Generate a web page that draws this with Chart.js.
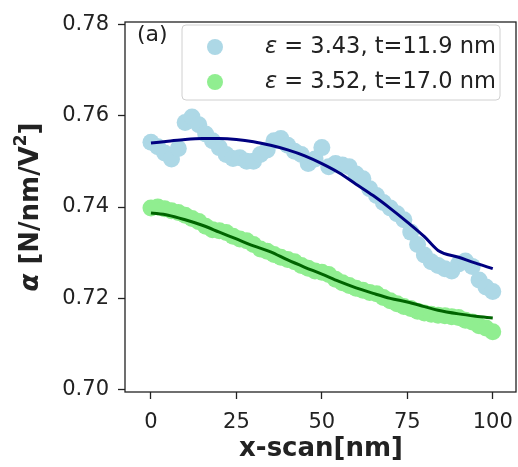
<!DOCTYPE html>
<html>
<head>
<meta charset="utf-8">
<script src="https://cdn.jsdelivr.net/npm/chart.js@4.4.1/dist/chart.umd.min.js"></script>
<style>
  html, body { margin: 0; padding: 0; background: #fff; }
  #wrap { width: 518px; height: 467px; }
</style>
</head>
<body>
<div id="wrap"><canvas id="chart" width="518" height="467"></canvas></div>
<script>
// Valores
const xScan = [0, 2, 4, 6, 8, 10, 12, 14, 16, 18, 20, 22, 24, 26, 28, 30, 32, 34, 36, 38, 40,
  42, 44, 46, 48, 50, 52, 54, 56, 58, 60, 62, 64, 66, 68, 70, 72, 74, 76, 78, 80,
  82, 84, 86, 88, 90, 92, 94, 96, 98, 100];

// amostra ε = 3.43 (pontos azuis)
const alphaA = [0.7542, 0.7532, 0.7518, 0.7505, 0.7528, 0.7585, 0.7597, 0.7580, 0.7560, 0.7545, 0.7530,
  0.7515, 0.7506, 0.7508, 0.7500, 0.7500, 0.7515, 0.7525, 0.7545, 0.7550, 0.7535,
  0.7522, 0.7515, 0.7495, 0.7505, 0.7530, 0.7488, 0.7495, 0.7492, 0.7488, 0.7472,
  0.7462, 0.7440, 0.7425, 0.7410, 0.7398, 0.7385, 0.7372, 0.7345, 0.7318, 0.7295,
  0.7280, 0.7272, 0.7265, 0.7260, 0.7275, 0.7282, 0.7270, 0.7240, 0.7225, 0.7215];

// amostra ε = 3.52 (pontos verdes)
const alphaB = [0.7398, 0.7400, 0.7396, 0.7392, 0.7388, 0.7382, 0.7375, 0.7368, 0.7358, 0.7350, 0.7348,
  0.7344, 0.7336, 0.7330, 0.7326, 0.7318, 0.7308, 0.7303, 0.7296, 0.7290, 0.7285,
  0.7280, 0.7272, 0.7266, 0.7260, 0.7257, 0.7252, 0.7242, 0.7234, 0.7228, 0.7222,
  0.7218, 0.7213, 0.7210, 0.7202, 0.7195, 0.7188, 0.7182, 0.7178, 0.7172, 0.7168,
  0.7165, 0.7163, 0.7162, 0.7160, 0.7158, 0.7152, 0.7148, 0.7140, 0.7135, 0.7127];

// curvas de ajuste
const xFit = [0, 5, 10, 15, 20, 25, 30, 35, 40, 45, 50, 55, 60, 65, 70, 75, 80, 84, 90, 95, 100];
const fitA = [0.7540, 0.7544, 0.7548, 0.7550, 0.7550, 0.7548, 0.7543, 0.7535, 0.7525, 0.7512, 0.7495,
  0.7475, 0.7450, 0.7425, 0.7397, 0.7367, 0.7335, 0.7305, 0.7290, 0.7277, 0.7265];
const fitB = [0.7387, 0.7382, 0.7372, 0.7360, 0.7345, 0.7330, 0.7315, 0.7302, 0.7284, 0.7268, 0.7253,
  0.7237, 0.7223, 0.7211, 0.7200, 0.7192, 0.7182, 0.7174, 0.7166, 0.7161, 0.7157];

const seriesLabels = ["ε = 3.43, t=11.9 nm", "ε = 3.52, t=17.0 nm"];
const xTicks = [0, 25, 50, 75, 100];
const yTicks = [0.70, 0.72, 0.74, 0.76, 0.78];

const FONT = "'DejaVu Sans', sans-serif";
const INK = "#222";

const pts = (xs, ys) => xs.map((x, i) => ({ x: x, y: ys[i] }));

// Plugin: moldura, legenda, rótulo (a) e títulos dos eixos
const decor = {
  id: "decor",
  afterDraw(chart) {
    const ctx = chart.ctx;
    const a = chart.chartArea;
    ctx.save();

    // moldura completa
    ctx.strokeStyle = INK;
    ctx.lineWidth = 1.3;
    ctx.strokeRect(a.left, a.top, a.right - a.left, a.bottom - a.top);

    // (a)
    ctx.fillStyle = INK;
    ctx.font = "22px " + FONT;
    ctx.textBaseline = "middle";
    ctx.textAlign = "left";
    ctx.fillText("(a)", a.left + 12, a.top + 13);

    // legenda
    const bx = 182, by = 25, bw = 318, bh = 75;
    ctx.beginPath();
    ctx.roundRect(bx, by, bw, bh, 4);
    ctx.fillStyle = "rgba(255,255,255,0.8)";
    ctx.fill();
    ctx.strokeStyle = "#d0d0d0";
    ctx.lineWidth = 1;
    ctx.stroke();
    const colors = [chart.data.datasets[0].backgroundColor, chart.data.datasets[1].backgroundColor];
    seriesLabels.forEach((lab, i) => {
      const cy = by + 22 + i * 35;
      ctx.beginPath();
      ctx.arc(215, cy, 8, 0, Math.PI * 2);
      ctx.fillStyle = colors[i];
      ctx.fill();
      ctx.fillStyle = INK;
      ctx.font = "italic 22.5px " + FONT;
      ctx.fillText(lab[0], 265, cy);
      const w = ctx.measureText(lab[0]).width;
      ctx.font = "22.5px " + FONT;
      ctx.fillText(lab.slice(1), 265 + w, cy);
    });

    // título do eixo x
    ctx.font = "bold 26px " + FONT;
    ctx.textAlign = "center";
    ctx.fillText("x-scan[nm]", 321, 449);

    // título do eixo y (α em itálico)
    ctx.translate(31, (a.top + a.bottom) / 2);
    ctx.rotate(-Math.PI / 2);
    const p1 = "α", p2 = " [N/nm/V", p3 = "2", p4 = "]";
    ctx.font = "italic bold 26px " + FONT;
    const w1 = ctx.measureText(p1).width;
    ctx.font = "bold 26px " + FONT;
    const w2 = ctx.measureText(p2).width;
    const w4 = ctx.measureText(p4).width;
    ctx.font = "bold 17px " + FONT;
    const w3 = ctx.measureText(p3).width;
    let x0 = -(w1 + w2 + w3 + w4) / 2;
    ctx.textAlign = "left";
    ctx.font = "italic bold 26px " + FONT;
    ctx.fillText(p1, x0, 0);
    x0 += w1;
    ctx.font = "bold 26px " + FONT;
    ctx.fillText(p2, x0, 0);
    x0 += w2;
    ctx.font = "bold 17px " + FONT;
    ctx.fillText(p3, x0, -9);
    x0 += w3;
    ctx.font = "bold 26px " + FONT;
    ctx.fillText(p4, x0, 0);

    ctx.restore();
  }
};

const ctx = document.querySelector("#chart").getContext("2d");
const chart = new Chart(ctx, {
  type: "scatter",
  data: {
    datasets: [
      {
        label: seriesLabels[0],
        data: pts(xScan, alphaA),
        backgroundColor: "#add8e6",
        borderWidth: 0,
        pointRadius: 8.5,
        order: 3
      },
      {
        label: seriesLabels[1],
        data: pts(xScan, alphaB),
        backgroundColor: "#90ee90",
        borderWidth: 0,
        pointRadius: 8.5,
        order: 2
      },
      {
        data: pts(xFit, fitA),
        showLine: true,
        borderColor: "#000080",
        borderWidth: 3,
        pointRadius: 0,
        cubicInterpolationMode: "monotone",
        order: 1
      },
      {
        data: pts(xFit, fitB),
        showLine: true,
        borderColor: "#006400",
        borderWidth: 3,
        pointRadius: 0,
        cubicInterpolationMode: "monotone",
        order: 0
      }
    ]
  },
  options: {
    responsive: false,
    animation: false,
    events: [],
    layout: { autoPadding: false, padding: { top: 22, right: 2, left: 0, bottom: 0 } },
    plugins: { legend: { display: false }, tooltip: { enabled: false } },
    scales: {
      x: {
        type: "linear",
        min: -7.6,
        max: 106.8,
        afterBuildTicks: (s) => { s.ticks = xTicks.map((v) => ({ value: v })); },
        afterFit: (s) => { s.height = 75; s.paddingLeft = 0; s.paddingRight = 0; },
        grid: { drawOnChartArea: false, drawTicks: true, tickLength: 7, color: INK, tickWidth: 1.3 },
        border: { display: false },
        ticks: { font: { family: FONT, size: 21 }, color: INK, padding: 11, maxRotation: 0 }
      },
      y: {
        type: "linear",
        min: 0.6995,
        max: 0.7805,
        afterBuildTicks: (s) => { s.ticks = yTicks.map((v) => ({ value: v })); },
        afterFit: (s) => { s.width = 125; s.paddingTop = 0; s.paddingBottom = 0; },
        grid: { drawOnChartArea: false, drawTicks: true, tickLength: 7, color: INK, tickWidth: 1.3 },
        border: { display: false },
        ticks: {
          font: { family: FONT, size: 21 },
          color: INK,
          padding: 9,
          callback: (v) => v.toFixed(2)
        }
      }
    }
  },
  plugins: [decor]
});
</script>
</body>
</html>
